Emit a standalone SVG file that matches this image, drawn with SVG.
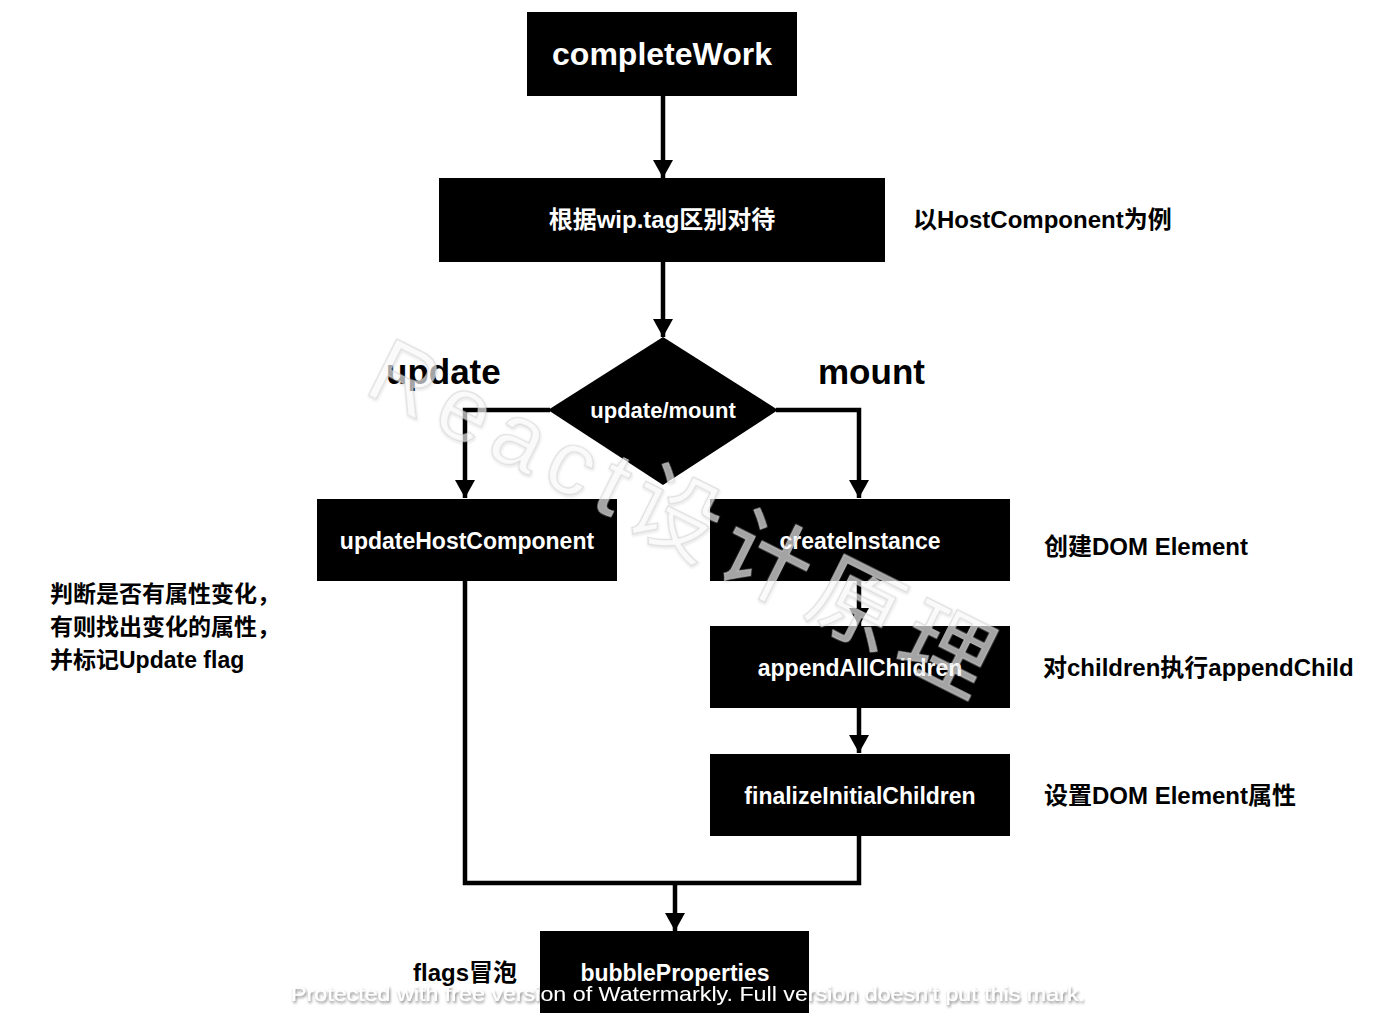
<svg xmlns="http://www.w3.org/2000/svg" width="1375" height="1032" viewBox="0 0 1375 1032">
<style>
  .box { fill: #000; }
  .lbl { fill: #fff; font-family: "Liberation Sans", "Noto Sans CJK SC", sans-serif; font-weight: bold; text-anchor: middle; }
  .note { fill: #000; font-family: "Liberation Sans", "Noto Sans CJK SC", sans-serif; font-weight: bold; }
  .conn { fill: none; stroke: #000; stroke-width: 4.5; stroke-linejoin: miter; }
  .wm { font-family: "Liberation Sans", "Noto Sans CJK SC", sans-serif; }
</style>
<defs>
  <marker id="arr" markerUnits="userSpaceOnUse" markerWidth="20" markerHeight="20" viewBox="0 0 20 20" refX="18" refY="10" orient="auto">
    <path d="M0,0 L18,10 L0,20 Z" fill="#000"/>
  </marker>
  <filter id="shadow" x="-10%" y="-30%" width="120%" height="160%">
    <feGaussianBlur in="SourceAlpha" stdDeviation="1.6" result="b"/>
    <feOffset in="b" dx="1" dy="1.5" result="o"/>
    <feComponentTransfer in="o" result="s"><feFuncA type="linear" slope="0.55"/></feComponentTransfer>
    <feMerge><feMergeNode in="s"/><feMergeNode in="SourceGraphic"/></feMerge>
  </filter>
  <filter id="shadowSoft" x="-10%" y="-30%" width="120%" height="160%">
    <feGaussianBlur in="SourceAlpha" stdDeviation="1.5" result="b"/>
    <feOffset in="b" dx="1" dy="1" result="o"/>
    <feComponentTransfer in="o" result="s"><feFuncA type="linear" slope="0.18"/></feComponentTransfer>
    <feMerge><feMergeNode in="s"/><feMergeNode in="SourceGraphic"/></feMerge>
  </filter>
</defs>
<rect width="1375" height="1032" fill="#fff"/>

<g id="connectors">
  <path class="conn" d="M663,96 V178" marker-end="url(#arr)"/>
  <path class="conn" d="M663,262 V337" marker-end="url(#arr)"/>
  <path class="conn" d="M550,410 H465 V498" marker-end="url(#arr)"/>
  <path class="conn" d="M776,410 H859 V498" marker-end="url(#arr)"/>
  <path class="conn" d="M859,581 V626" marker-end="url(#arr)"/>
  <path class="conn" d="M859,708 V753" marker-end="url(#arr)"/>
  <path class="conn" d="M465,581 V883 H859 V836"/>
  <path class="conn" d="M675,883 V931" marker-end="url(#arr)"/>
</g>

<g id="completeWork">
  <rect class="box" x="527" y="12" width="270" height="84"/>
  <text class="lbl" x="662" y="65" font-size="32">completeWork</text>
</g>
<g id="tagSwitch">
  <rect class="box" x="439" y="178" width="446" height="84"/>
  <text class="lbl" x="662" y="228" font-size="24">根据wip.tag区别对待</text>
</g>
<g id="noteHost">
  <text class="note" x="913" y="228" font-size="24">以HostComponent为例</text>
</g>
<g id="decision">
  <path class="box" d="M663,337 L778,410 L663,485 L548,410 Z"/>
  <text class="lbl" x="663" y="418" font-size="22">update/mount</text>
</g>
<g id="labelUpdate">
  <text class="note" x="386" y="384" font-size="35">update</text>
</g>
<g id="labelMount">
  <text class="note" x="818" y="384" font-size="35">mount</text>
</g>
<g id="updateHostComponent">
  <rect class="box" x="317" y="499" width="300" height="82"/>
  <text class="lbl" x="467" y="549" font-size="23">updateHostComponent</text>
</g>
<g id="noteUpdate">
  <text class="note" x="50" y="602" font-size="23">判断是否有属性变化，</text>
  <text class="note" x="50" y="635" font-size="23">有则找出变化的属性，</text>
  <text class="note" x="50" y="668" font-size="23">并标记Update flag</text>
</g>
<g id="createInstance">
  <rect class="box" x="710" y="499" width="300" height="82"/>
  <text class="lbl" x="860" y="549" font-size="23">createInstance</text>
</g>
<g id="noteCreate">
  <text class="note" x="1044" y="555" font-size="24">创建DOM Element</text>
</g>
<g id="appendAllChildren">
  <rect class="box" x="710" y="626" width="300" height="82"/>
  <text class="lbl" x="860" y="676" font-size="23">appendAllChildren</text>
</g>
<g id="noteAppend">
  <text class="note" x="1043" y="676" font-size="24">对children执行appendChild</text>
</g>
<g id="finalizeInitialChildren">
  <rect class="box" x="710" y="754" width="300" height="82"/>
  <text class="lbl" x="860" y="804" font-size="23">finalizeInitialChildren</text>
</g>
<g id="noteFinalize">
  <text class="note" x="1044" y="804" font-size="24">设置DOM Element属性</text>
</g>
<g id="bubbleProperties">
  <rect class="box" x="540" y="931" width="269" height="82"/>
  <text class="lbl" x="675" y="981" font-size="23">bubbleProperties</text>
</g>
<g id="noteBubble">
  <text class="note" x="413" y="981" font-size="24">flags冒泡</text>
</g>

<g id="watermarks">
  <text class="wm" transform="translate(362,392) rotate(26.6)" x="0" y="0" font-size="90" letter-spacing="11" fill="#fff" fill-opacity="0.62" stroke="#d0d0d0" stroke-opacity="0.7" stroke-width="1.2" filter="url(#shadowSoft)">React设计原理</text>
  <text class="wm" x="291" y="1001" font-size="21" textLength="794" lengthAdjust="spacingAndGlyphs" fill="#fff" filter="url(#shadow)">Protected with free version of Watermarkly. Full version doesn't put this mark.</text>
</g>
</svg>
